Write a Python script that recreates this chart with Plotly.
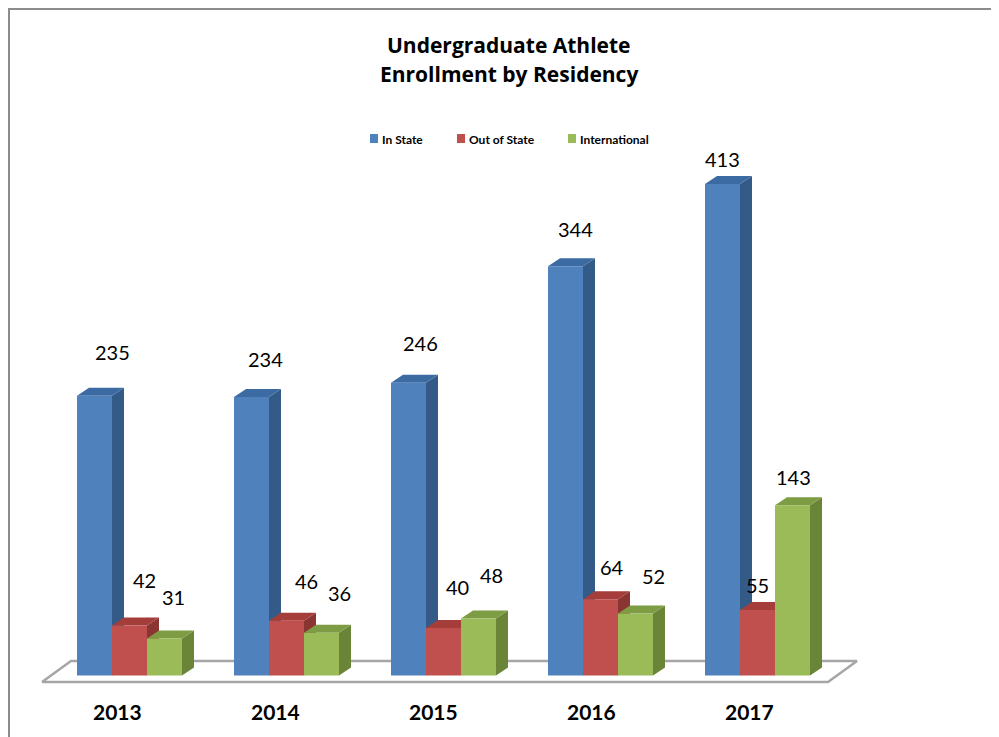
import plotly.graph_objects as go

# ---------------- data ----------------
years = ["2013", "2014", "2015", "2016", "2017"]
in_state = [235, 234, 246, 344, 413]
out_of_state = [42, 46, 40, 64, 55]
international = [31, 36, 48, 52, 143]
series_names = ["In State", "Out of State", "International"]
series_values = [in_state, out_of_state, international]

title_lines = ["Undergraduate Athlete", "Enrollment by Residency"]

# ---------------- styling ----------------
front_colors = ["#4F81BD", "#C0504D", "#9BBB59"]
top_colors = ["#3C6BA3", "#A53E3B", "#7E9C43"]
side_colors = ["#345A88", "#8A3532", "#6B8538"]
FONT = "Lato"
TITLE_FONT = "Open Sans"

# ---------------- geometry (page pixels) ----------------
PAGE_OFF = 8                      # default body margin of the html page
W, H = 999 - PAGE_OFF, 737 - PAGE_OFF
CAT0_PX, CAT_STEP_PX = 129.5, 157.0
ZERO_PX, PX_PER_UNIT = 675.5, 1.19
BAR_W_PX, DEPTH_DX_PX, DEPTH_DY_PX = 35.0, 12.0, 8.0

xu = 1.0 / CAT_STEP_PX   # x data units per pixel
yu = 1.0 / PX_PER_UNIT   # y data units per pixel
bw = BAR_W_PX * xu
ddx = DEPTH_DX_PX * xu
ddy = DEPTH_DY_PX * yu

# figure pixel p corresponds to page pixel p + PAGE_OFF
x_range = [(PAGE_OFF - CAT0_PX) * xu, (PAGE_OFF + W - CAT0_PX) * xu]
y_range = [-(PAGE_OFF + H - ZERO_PX) * yu, (ZERO_PX - PAGE_OFF) * yu]


def px_to_x(px):
    return (px - CAT0_PX) * xu


def py_to_y(py):
    return (ZERO_PX - py) * yu


def px_to_paper(px):
    return (px - PAGE_OFF) / W


def py_to_paper(py):
    return 1 - (py - PAGE_OFF) / H


# label offsets (pixels) per series / year, Excel-like 3D label placement
label_off = [
    [(18, -44), (14, -38), (12, -40), (10, -37), (0, -25)],
    [(15, -46), (20, -40), (14, -41), (11, -32), (0, -25)],
    [(9, -42), (18, -40), (13, -43), (18, -38), (1, -28)],
]

fig = go.Figure()

# floor
floor_px = [(42, 682), (828, 682), (857, 661), (71, 661), (42, 682)]
fig.add_trace(go.Scatter(
    x=[px_to_x(p[0]) for p in floor_px],
    y=[py_to_y(p[1]) for p in floor_px],
    mode="lines", fill="toself", fillcolor="white",
    line=dict(color="#A6A6A6", width=2.5),
    hoverinfo="skip", showlegend=False,
))

annotations = []
for k, (name, vals) in enumerate(zip(series_names, series_values)):
    sx, sy, tx, ty, fx, fy = [], [], [], [], [], []
    for i, h in enumerate(vals):
        x0 = i + (k - 1.5) * bw
        x1 = x0 + bw
        # side face
        sx += [x1, x1 + ddx, x1 + ddx, x1, x1, None]
        sy += [0, ddy, h + ddy, h, 0, None]
        # top face
        tx += [x0, x1, x1 + ddx, x0 + ddx, x0, None]
        ty += [h, h, h + ddy, h + ddy, h, None]
        # front face
        fx += [x0, x1, x1, x0, x0, None]
        fy += [0, 0, h, h, 0, None]
        ox, oy = label_off[k][i]
        annotations.append(dict(
            x=i + (k - 1) * bw + ox * xu, y=h - oy * yu,
            xref="x", yref="y", text=str(h), showarrow=False,
            font=dict(family=FONT, size=20, color="black"),
            xanchor="center", yanchor="middle",
        ))
    for xs, ys, col in [(sx, sy, side_colors[k]), (tx, ty, top_colors[k]),
                        (fx, fy, front_colors[k])]:
        fig.add_trace(go.Scatter(
            x=xs, y=ys, mode="lines", fill="toself", fillcolor=col,
            line=dict(width=0, color=col), name=name,
            hoverinfo="skip", showlegend=False,
        ))

# category labels
for i, yr in enumerate(years):
    cx_px = 117 + 158.0 * i
    annotations.append(dict(
        x=px_to_x(cx_px), y=py_to_y(711), xref="x", yref="y",
        text="<b>%s</b>" % yr, showarrow=False,
        font=dict(family=FONT, size=21, color="black"),
        xanchor="center", yanchor="middle",
    ))

# title
for line, cy in zip(title_lines, [45, 74]):
    annotations.append(dict(
        x=px_to_paper(509), y=py_to_paper(cy), xref="paper", yref="paper",
        text="<b>%s</b>" % line, showarrow=False,
        font=dict(family=TITLE_FONT, size=21, color="black"),
        xanchor="center", yanchor="middle",
    ))

# legend
shapes = []
legend_sq_px = [370, 457, 568]
for k, name in enumerate(series_names):
    sqx = legend_sq_px[k]
    shapes.append(dict(
        type="rect", xref="paper", yref="paper",
        x0=px_to_paper(sqx), x1=px_to_paper(sqx + 8),
        y0=py_to_paper(143), y1=py_to_paper(134),
        fillcolor=front_colors[k], line=dict(width=0),
    ))
    annotations.append(dict(
        x=px_to_paper(sqx + 10), y=py_to_paper(139), xref="paper", yref="paper",
        text="<b>%s</b>" % name, showarrow=False,
        font=dict(family=FONT, size=12, color="black"),
        xanchor="left", yanchor="middle",
    ))

# outer chart border
shapes.append(dict(
    type="rect", xref="paper", yref="paper",
    x0=px_to_paper(9), x1=1.05, y0=-0.05, y1=py_to_paper(9),
    line=dict(color="#8C8C8C", width=2), fillcolor="rgba(0,0,0,0)",
))

fig.update_layout(
    width=W, height=H,
    margin=dict(l=0, r=0, t=0, b=0),
    paper_bgcolor="white", plot_bgcolor="white",
    xaxis=dict(range=x_range, visible=False, fixedrange=True),
    yaxis=dict(range=y_range, visible=False, fixedrange=True),
    annotations=annotations, shapes=shapes,
    showlegend=False, hovermode=False,
)

fig.write_html("out.html")
